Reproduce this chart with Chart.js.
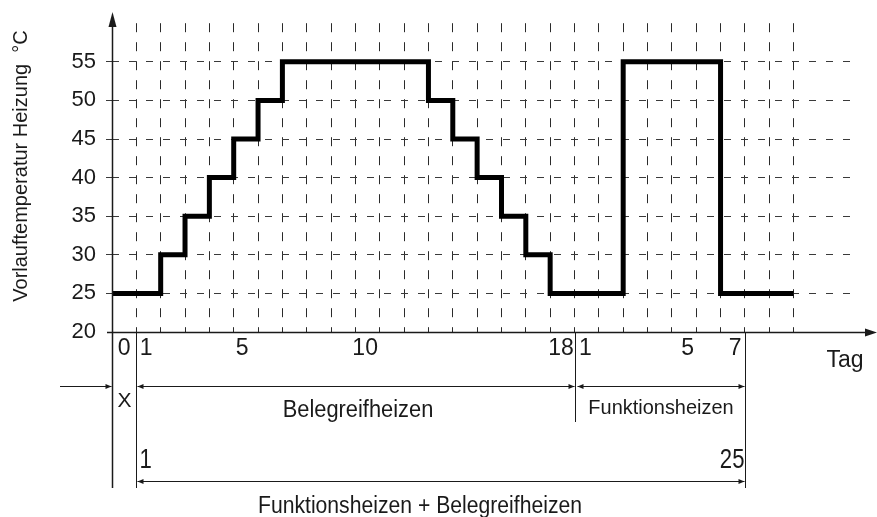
<!DOCTYPE html>
<html>
<head>
<meta charset="utf-8">
<script src="https://cdn.jsdelivr.net/npm/chart.js@4.4.0/dist/chart.umd.min.js"></script>
<style>
  html, body { margin: 0; padding: 0; background: #fff; }
  #wrap { width: 877px; height: 517px; }
</style>
</head>
<body>
<div id="wrap"><canvas id="heating-chart"></canvas></div>
<script>
/* Heizprogramm: Vorlauftemperatur je Tag (Belegreifheizen + Funktionsheizen) */
const stepDays  = [0, 2, 3, 4, 5, 6, 7, 13, 14, 15, 16, 17, 18, 21, 25, 28];
const flowTemps = [25, 30, 35, 40, 45, 50, 55, 50, 45, 40, 35, 30, 25, 55, 25, 25];

const tempTicks = [20, 25, 30, 35, 40, 45, 50, 55];
const gridDays = [];
for (let d = 1; d <= 28; d++) gridDays.push(d);

// day numbers under the axis, placed inside their day column
const dayLabelPos = [0.5, 1.4, 5.35, 10.4, 18.45, 19.45, 23.65, 25.6];
const dayLabels   = ['0', '1', '5', '10', '18', '1', '5', '7'];

// phase borders on the day scale
const phaseStart = 0, belegStart = 1, funkStart = 19, phaseEnd = 26;

const FONT = '"Liberation Sans", Arial, sans-serif';
const INK = '#1a1a1a';

function arrowHead(ctx, x, y, dir, len, half) {
    // dir: 'r', 'l', 'u'
    ctx.beginPath();
    if (dir === 'r') { ctx.moveTo(x, y); ctx.lineTo(x - len, y - half); ctx.lineTo(x - len, y + half); }
    if (dir === 'l') { ctx.moveTo(x, y); ctx.lineTo(x + len, y - half); ctx.lineTo(x + len, y + half); }
    if (dir === 'u') { ctx.moveTo(x, y); ctx.lineTo(x - half, y + len); ctx.lineTo(x + half, y + len); }
    ctx.closePath();
    ctx.fill();
}

function line(ctx, x1, y1, x2, y2) {
    ctx.beginPath();
    ctx.moveTo(x1, y1);
    ctx.lineTo(x2, y2);
    ctx.stroke();
}

// sx < 1 squeezes the text horizontally
function text(ctx, str, x, y, size, align, sx) {
    sx = sx || 1;
    ctx.save();
    ctx.translate(x, y);
    ctx.scale(sx, 1);
    ctx.font = size + 'px ' + FONT;
    ctx.textAlign = align || 'center';
    ctx.textBaseline = 'alphabetic';
    ctx.fillText(str, 0, 0);
    ctx.restore();
}

/**
 * axes with arrows, phase brackets and their captions
 */
const diagramLines = {
    id: 'diagramLines',
    afterDraw(chart) {
        const ctx = chart.ctx;
        const x = chart.scales.x, y = chart.scales.y;
        const px = d => Math.round(x.getPixelForValue(d)) + 0.5;
        const x0 = px(phaseStart), y0 = Math.round(y.getPixelForValue(20)) + 0.5;

        ctx.save();
        ctx.fillStyle = INK;
        ctx.strokeStyle = INK;

        // axes
        ctx.lineWidth = 1.5;
        line(ctx, x0, 488, x0, 24);
        arrowHead(ctx, x0, 12, 'u', 15, 4);
        line(ctx, 107, y0, 866, y0);
        arrowHead(ctx, 877, y0, 'r', 12, 4);

        // phase borders
        ctx.lineWidth = 1;
        line(ctx, px(belegStart), y0, px(belegStart), 488);
        line(ctx, px(funkStart), y0, px(funkStart), 422);
        line(ctx, px(phaseEnd), y0, px(phaseEnd), 488);

        // brackets
        const yA = 386.5, yB = 481.5;
        line(ctx, 60, yA, x0 - 1, yA);
        arrowHead(ctx, x0 - 1, yA, 'r', 6, 2.5);

        line(ctx, px(belegStart) + 1, yA, px(funkStart) - 1, yA);
        arrowHead(ctx, px(belegStart) + 1, yA, 'l', 6, 2.5);
        arrowHead(ctx, px(funkStart) - 1, yA, 'r', 6, 2.5);

        line(ctx, px(funkStart) + 2, yA, px(phaseEnd) - 1, yA);
        arrowHead(ctx, px(funkStart) + 2, yA, 'l', 6, 2.5);
        arrowHead(ctx, px(phaseEnd) - 1, yA, 'r', 6, 2.5);

        line(ctx, px(belegStart) + 1, yB, px(phaseEnd) - 1, yB);
        arrowHead(ctx, px(belegStart) + 1, yB, 'l', 6, 2.5);
        arrowHead(ctx, px(phaseEnd) - 1, yB, 'r', 6, 2.5);

        // captions
        text(ctx, 'Tag', 845, 367, 23);
        text(ctx, 'X', (x0 + px(belegStart)) / 2, 407, 21);
        text(ctx, 'Belegreifheizen', 358, 417, 23, 'center', 0.95);
        text(ctx, 'Funktionsheizen', 661, 414, 21, 'center', 0.95);
        text(ctx, '1', px(belegStart) + 3, 468, 27, 'left', 0.82);
        text(ctx, '25', px(phaseEnd) - 1, 468, 27, 'right', 0.82);
        text(ctx, 'Funktionsheizen + Belegreifheizen', 420, 513, 23, 'center', 0.92);

        // y title
        ctx.translate(21, 166);
        ctx.rotate(-Math.PI / 2);
        ctx.font = '20px ' + FONT;
        ctx.textAlign = 'center';
        ctx.textBaseline = 'middle';
        ctx.fillText('Vorlauftemperatur Heizung  \u00B0C', 0, 0);
        ctx.restore();
    }
};

const points = stepDays.map((d, i) => ({ x: d, y: flowTemps[i] }));

new Chart(document.getElementById('heating-chart'), {
    type: 'line',
    data: {
        datasets: [{
            data: points,
            stepped: 'before',
            borderColor: '#000',
            borderWidth: 5,
            borderJoinStyle: 'miter',
            borderCapStyle: 'butt',
            pointRadius: 0,
            fill: false
        }]
    },
    options: {
        responsive: true,
        maintainAspectRatio: false,
        animation: false,
        layout: { padding: { top: 20, right: 25, left: 0, bottom: 0 } },
        plugins: { legend: { display: false }, tooltip: { enabled: false } },
        scales: {
            x: {
                type: 'linear',
                min: 0,
                max: 30.4,
                afterBuildTicks: s => { s.ticks = gridDays.concat(dayLabelPos).map(v => ({ value: v })); },
                afterFit: s => { s.height = 185; },
                grid: {
                    drawTicks: false,
                    lineWidth: 1,
                    color: c => gridDays.includes(c.tick && c.tick.value) ? '#2a2a2a' : 'rgba(0,0,0,0)'
                },
                border: { display: false, dash: [9, 10] },
                ticks: {
                    autoSkip: false,
                    maxRotation: 0,
                    padding: 3,
                    color: INK,
                    font: { family: FONT, size: 23 },
                    callback: v => {
                        const i = dayLabelPos.indexOf(v);
                        return i >= 0 ? dayLabels[i] : '';
                    }
                }
            },
            y: {
                min: 20,
                max: 60,
                afterBuildTicks: s => { s.ticks = tempTicks.map(v => ({ value: v })); },
                afterFit: s => { s.width = 112; },
                grid: {
                    drawTicks: true,
                    tickLength: 6,
                    lineWidth: 1,
                    color: c => (c.tick && c.tick.value === 20) ? 'rgba(0,0,0,0)' : '#3a3a3a',
                    tickColor: c => (c.tick && c.tick.value === 20) ? 'rgba(0,0,0,0)' : '#3a3a3a'
                },
                border: { display: false, dash: [7, 10] },
                ticks: {
                    padding: 10,
                    color: INK,
                    font: { family: FONT, size: 22 }
                }
            }
        }
    },
    plugins: [diagramLines]
});
</script>
</body>
</html>
